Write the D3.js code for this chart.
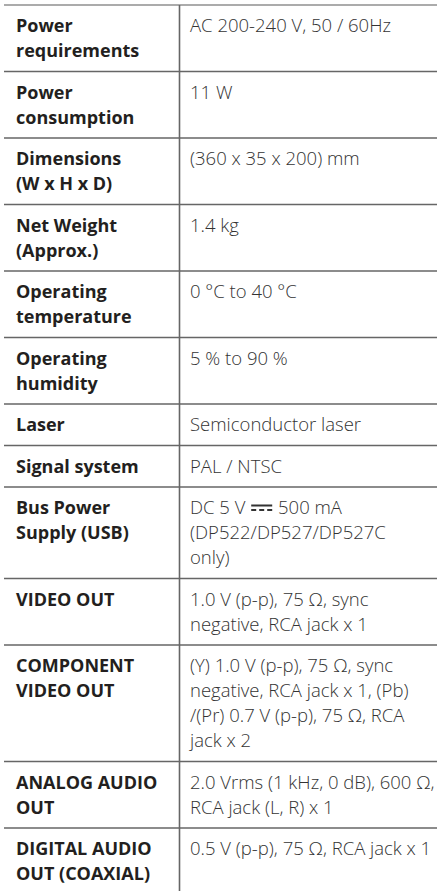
<!DOCTYPE html>
<html>
<head>
<meta charset="utf-8">
<script src="https://cdn.jsdelivr.net/npm/d3@7"></script>
<style>
  body { margin: 0; background: #fff; }
</style>
</head>
<body>
<div id="chart-area"></div>
<script>
// table content: one entry per row, each cell split into its printed lines
const labels = [
  ["Power", "requirements"],
  ["Power", "consumption"],
  ["Dimensions", "(W x H x D)"],
  ["Net Weight", "(Approx.)"],
  ["Operating", "temperature"],
  ["Operating", "humidity"],
  ["Laser"],
  ["Signal system"],
  ["Bus Power", "Supply (USB)"],
  ["VIDEO OUT"],
  ["COMPONENT", "VIDEO OUT"],
  ["ANALOG AUDIO", "OUT"],
  ["DIGITAL AUDIO", "OUT (COAXIAL)"]
]
const values = [
  ["AC 200-240 V, 50 / 60Hz"],
  ["11 W"],
  ["(360 x 35 x 200) mm"],
  ["1.4 kg"],
  ["0 °C to 40 °C"],
  ["5 % to 90 %"],
  ["Semiconductor laser"],
  ["PAL / NTSC"],
  ["DC 5 V ⎓ 500 mA", "(DP522/DP527/DP527C", "only)"],
  ["1.0 V (p-p), 75 Ω, sync", "negative, RCA jack x 1"],
  ["(Y) 1.0 V (p-p), 75 Ω, sync", "negative, RCA jack x 1, (Pb)", "/(Pr) 0.7 V (p-p), 75 Ω, RCA", "jack x 2"],
  ["2.0 Vrms (1 kHz, 0 dB), 600 Ω,", "RCA jack (L, R) x 1"],
  ["0.5 V (p-p), 75 Ω, RCA jack x 1"]
]

const W = 437
const H = 891
const TOP = 5
const LINE = 25      // line height inside a cell
const PAD = 16.5     // vertical padding per row
const BASE = 27      // first baseline below row top
const X_LEFT = 4
const X_DIV = 179.5
const X_LABEL = 16
const X_VALUE = 190
const FONT = "'Open Sans', 'Noto Sans', sans-serif"

const rows = labels.map((l, i) => ({
  label: l,
  value: values[i],
  lines: Math.max(l.length, values[i].length)
}))

// row tops from cumulative line counts
const heights = rows.map(r => r.lines * LINE + PAD)
const tops = [0, ...d3.cumsum(heights)]
const y = d3.scaleLinear().domain([0, 1]).range([TOP, TOP + 1])
rows.forEach((r, i) => { r.top = y(tops[i]); r.bottom = y(tops[i + 1]) })

const svg = d3.select("#chart-area").append("svg")
  .attr("width", W)
  .attr("height", H)
  .style("display", "block")

// horizontal rules
svg.append("line")
  .attr("x1", X_LEFT).attr("x2", W)
  .attr("y1", TOP).attr("y2", TOP)
  .attr("stroke", "#8f8f8f").attr("stroke-width", 1.5)

svg.selectAll("line.rule")
  .data(rows)
  .enter().append("line")
  .attr("class", "rule")
  .attr("x1", X_LEFT).attr("x2", W)
  .attr("y1", d => d.bottom).attr("y2", d => d.bottom)
  .attr("stroke", "#666").attr("stroke-width", 1.6)

// column divider
svg.append("line")
  .attr("x1", X_DIV).attr("x2", X_DIV)
  .attr("y1", TOP).attr("y2", H)
  .attr("stroke", "#666").attr("stroke-width", 1.6)

const row = svg.selectAll("g.row")
  .data(rows)
  .enter().append("g")
  .attr("class", "row")
  .attr("transform", d => `translate(0, ${d.top})`)

// labels
row.append("text")
  .attr("font-family", FONT)
  .attr("font-weight", 700)
  .attr("font-size", 18)
  .attr("fill", "#231f20")
  .selectAll("tspan")
  .data(d => d.label)
  .enter().append("tspan")
  .attr("x", X_LABEL)
  .attr("y", (d, i) => BASE + i * LINE)
  .text(d => d)

// values (the DC symbol is drawn as lines)
row.each(function(d) {
  const g = d3.select(this)
  d.value.forEach((txt, i) => {
    const yy = BASE + i * LINE
    const parts = txt.split("⎓")
    let x = X_VALUE
    parts.forEach((p, k) => {
      const t = g.append("text")
        .attr("x", x).attr("y", yy)
        .attr("font-family", FONT)
        .attr("font-weight", 300)
        .attr("font-size", 18.5)
        .attr("fill", "#333")
        .attr("xml:space", "preserve")
        .text(p)
      x += t.node().getComputedTextLength()
      if (k < parts.length - 1) {
        const sw = 21
        g.append("rect")
          .attr("x", x + 1).attr("y", yy - 9.5)
          .attr("width", sw).attr("height", 2)
          .attr("fill", "#333")
        d3.range(3).forEach(j => {
          g.append("rect")
            .attr("x", x + 1 + j * 8).attr("y", yy - 5)
            .attr("width", 5).attr("height", 2)
            .attr("fill", "#333")
        })
        x += sw + 2
      }
    })
  })
})
</script>
</body>
</html>
